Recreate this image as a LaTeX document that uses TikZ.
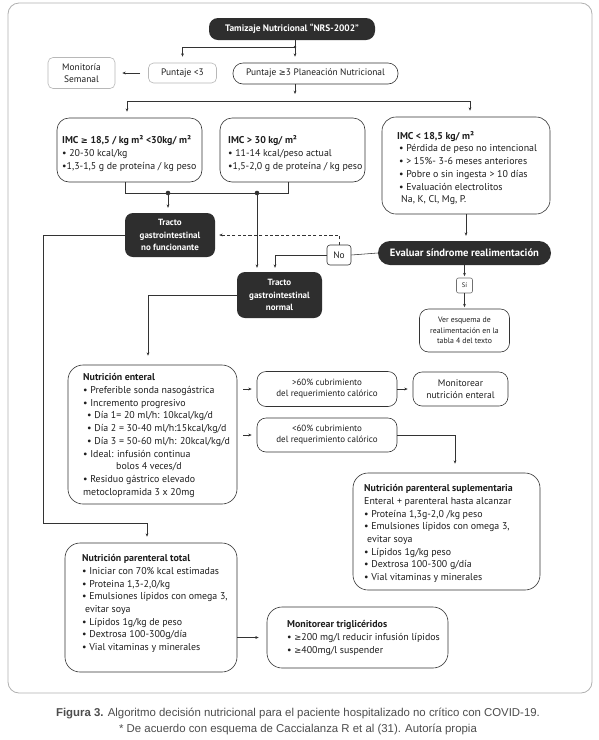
\documentclass[tikz,border=0pt]{standalone}
\usepackage{fontspec}
\setmainfont{PT Sans}
\newfontfamily\symfont{DejaVu Sans}
\newfontfamily\capfont{Liberation Sans}
\usetikzlibrary{arrows.meta}
\definecolor{darkc}{HTML}{2E2E2E}
\definecolor{linec}{HTML}{333333}
\definecolor{lightc}{HTML}{B8B8B8}
\definecolor{framec}{HTML}{B0B0B0}
\definecolor{capc}{HTML}{4D4D4D}
\definecolor{txtc}{HTML}{1E1E1E}
\newcommand{\gsign}{{\symfont\fontsize{8.4}{8}\selectfont ≥}}
\tikzset{
  arr/.style={-{Stealth[length=3.4pt,width=2.8pt]}, draw=linec, line width=0.55pt},
  ln/.style={draw=linec, line width=0.55pt},
  darkbox/.style={fill=darkc, draw=none, text=white, font=\bfseries\fontsize{9}{12.3}\selectfont, align=center, inner sep=0pt},
  wbox/.style={draw=linec, line width=0.6pt, inner sep=0pt},
  cbox/.style={draw=linec, line width=0.6pt, inner sep=0pt, align=center, text=txtc, font=\fontsize{9}{11.2}\selectfont},
  lbox/.style={draw=lightc, line width=0.6pt, inner sep=0pt, align=center, text=txtc, font=\fontsize{9.4}{11.5}\selectfont},
  txt/.style={anchor=west, align=left, inner sep=0pt, text=txtc, font=\fontsize{9.9}{12.7}\selectfont},
  jdot/.style={circle, fill=linec, inner sep=0pt, minimum size=4.6pt},
}
\begin{document}
\begin{tikzpicture}[x=1pt,y=-1pt]
\fill[white] (0,0) rectangle (598,740);
\useasboundingbox (0,0) rectangle (598,740);
\node[draw=framec, line width=0.8pt, rounded corners=11pt, minimum width=584pt, minimum height=690pt, inner sep=0pt] (frame) at (300,348) {};

% top
\node[darkbox, rounded corners=9pt, minimum width=166pt, minimum height=22pt, font=\bfseries\fontsize{9.4}{11}\selectfont] (T) at (292,29) {Tamizaje Nutricional “NRS-2002”};
\node[lbox, rounded corners=5pt, minimum width=68pt, minimum height=20pt] (Plow) at (182.5,73) {Puntaje <3};
\node[lbox, rounded corners=5pt, minimum width=67pt, minimum height=31pt] (Mon) at (81.5,73) {Monitoría\\Semanal};
\node[cbox, rounded corners=10pt, minimum width=165pt, minimum height=21pt, font=\fontsize{9.4}{11}\selectfont] (Pge) at (315.5,73.5) {Puntaje \gsign3 Planeación Nutricional};

\coordinate (j0) at (295,47);
\node[jdot, minimum size=2.6pt] (j0d) at (j0) {};
\draw[ln] (T.south -| j0) -- (j0);
\draw[arr, shorten >=6pt] (j0) -| (Plow.north);
\draw[arr, shorten >=6pt] (j0) -- (j0 |- Pge.north);
\draw[arr, shorten <=8pt, shorten >=7pt] (Plow.west) -- (Mon.east);

\coordinate (bar) at (295,101);
\coordinate (bl) at (127,101);
\coordinate (br) at (470,101);
\draw[arr, shorten >=7pt] (Pge.south -| bar) -- (bar);
\draw[ln] (bl) -- (br);

% IMC boxes
\node[wbox, rounded corners=12pt, minimum width=145pt, minimum height=64pt] (I1) at (129.5,150) {};
\node[txt] (I1t) at (62,153.5) {\textbf{IMC \gsign{} 18,5 / kg m² <30kg/ m²}\\• 20-30 kcal/kg\\•1,3-1,5 g de proteína / kg peso};
\node[wbox, rounded corners=12pt, minimum width=145pt, minimum height=64pt] (I2) at (292.5,150) {};
\node[txt] (I2t) at (228,153.5) {\textbf{IMC > 30 kg/ m²}\\• 11-14 kcal/peso actual\\•1,5-2,0 g de proteína / kg peso};
\node[wbox, rounded corners=14pt, minimum width=168pt, minimum height=97pt] (I3) at (466,165.5) {};
\node[txt] (I3t) at (397,168) {\textbf{IMC < 18,5 kg/ m²}\\\hspace*{2pt}• Pérdida de peso no intencional\\\hspace*{2pt}• > 15\%- 3-6 meses anteriores\\\hspace*{2pt}• Pobre o sin ingesta > 10 días\\\hspace*{2pt}• Evaluación electrolitos\\\hspace*{4pt}Na, K, Cl, Mg, P.};

\draw[arr, shorten >=6pt] (bl) -- (bl |- I1.north);
\draw[arr, shorten >=6pt] (br) -- (br |- I3.north);

% bracket under IMC1 / IMC2
\coordinate (k1) at (125,193);
\coordinate (k2) at (288,193);
\draw[ln] (I1.south -| k1) -- (k1) -- (k2) -- (I2.south -| k2);
\node[jdot] (d1) at (168,193) {};
\node[jdot] (d2) at (257,193) {};

% tracto nodes
\node[darkbox, rounded corners=8pt, minimum width=90pt, minimum height=44pt] (TNF) at (170,235) {Tracto\\gastrointestinal\\no funcionante};
\node[darkbox, rounded corners=8pt, minimum width=85pt, minimum height=46pt] (TN) at (279.5,295) {Tracto\\gastrointestinal\\normal};
\draw[arr, shorten >=5pt] (d1.center) -- (d1.center |- TNF.north);
\draw[arr, shorten >=4pt] (d2.center) -- (d2.center |- TN.north);

% evaluar
\node[darkbox, rounded corners=12pt, minimum width=173pt, minimum height=24pt, font=\bfseries\fontsize{10.6}{12}\selectfont] (Ev) at (464.5,253) {Evaluar síndrome realimentación};
\node[cbox, rounded corners=3pt, minimum width=24pt, minimum height=20pt, font=\fontsize{9.4}{11}\selectfont] (No) at (339,255) {No};
\node[lbox, draw=linec!70, rounded corners=2pt, minimum width=16pt, minimum height=15pt, font=\fontsize{6.5}{8}\selectfont] (Si) at (464.5,285.5) {Sí};
\node[cbox, rounded corners=9pt, minimum width=90pt, minimum height=43pt, font=\fontsize{7.8}{10.5}\selectfont] (Ver) at (464.5,330.5) {Ver esquema de\\realimentación en la\\tabla 4 del texto};

\draw[arr, shorten >=5pt] (I3.south) -- (I3.south |- Ev.north);
\draw[ln] (Ev.west) -- (No.east);
\coordinate (nk) at (275,255);
\draw[arr, shorten >=4pt] (No.west) -- (nk) -- (nk |- TN.north);
\draw[arr, dash pattern=on 3.2pt off 2.2pt, shorten >=4pt] (No.north) |- (TNF.east);
\draw[arr, shorten >=1.5pt] (Ev.south) -- (Si.north);
\draw[arr, shorten >=1.5pt] (Si.south) -- (Ver.north);

% enteral
\node[wbox, rounded corners=15pt, minimum width=169pt, minimum height=139pt] (Ent) at (152.5,434.5) {};
\node[txt] (Entt) at (83,435.5) {\textbf{Nutrición enteral}\\• Preferible sonda nasogástrica\\• Incremento progresivo\\\hspace*{4pt}• Día 1= 20 ml/h: 10kcal/kg/d\\\hspace*{4pt}• Día 2 = 30-40 ml/h:15kcal/kg/d\\\hspace*{4pt}• Día 3 = 50-60 ml/h: 20kcal/kg/d\\• Ideal: infusión continua\\\hspace*{33pt}bolos 4 veces/d\\• Residuo gástrico elevado\\metoclopramida 3 x 20mg};
\coordinate (nA) at (148,295);
\draw[arr, shorten >=9pt] (TN.west) -- (nA) -- (nA |- Ent.north);

\node[cbox, rounded corners=9pt, minimum width=140pt, minimum height=35pt] (G60) at (327,389) {>60\% cubrimiento\\del requerimiento calórico};
\node[cbox, rounded corners=9pt, minimum width=140pt, minimum height=34pt] (L60) at (327,435) {<60\% cubrimiento\\del requerimiento calórico};
\node[cbox, rounded corners=9pt, minimum width=95pt, minimum height=34pt, font=\fontsize{9.6}{11.8}\selectfont] (MonE) at (460.5,389) {Monitorear\\nutrición enteral};
\draw[arr, shorten <=6pt, shorten >=5pt] (Ent.east |- G60.west) -- (G60.west);
\draw[arr, shorten <=6pt, shorten >=5pt] (Ent.east |- L60.west) -- (L60.west);
\draw[arr, shorten >=5pt] (G60.east) -- (MonE.west);

% parenteral suplementaria
\node[wbox, rounded corners=15pt, minimum width=187pt, minimum height=117pt] (NPS) at (446.5,531.5) {};
\node[txt] (NPSt) at (364,533.5) {\textbf{Nutrición parenteral suplementaria}\\Enteral + parenteral hasta alcanzar\\• Proteína 1,3g-2,0 /kg peso\\• Emulsiones lípidos con omega 3,\\\hspace*{3pt}evitar soya\\• Lípidos 1g/kg peso\\• Dextrosa 100-300 g/día\\• Vial vitaminas y minerales};
\coordinate (lk) at (455,435);
\draw[arr, shorten >=9pt] (L60.east) -- (lk) -- (lk |- NPS.north);

% parenteral total
\node[wbox, rounded corners=15pt, minimum width=172pt, minimum height=129pt] (NPT) at (151,607.5) {};
\node[txt] (NPTt) at (82,603.5) {\textbf{Nutrición parenteral total}\\• Iniciar con 70\% kcal estimadas\\• Proteina 1,3-2,0/kg\\• Emulsiones lípidos con omega 3,\\\hspace*{3pt}evitar soya\\• Lípidos 1g/kg de peso\\• Dextrosa 100-300g/día\\• Vial vitaminas y minerales};
\coordinate (lA) at (43,235);
\coordinate (lB) at (43,523);
\coordinate (lC) at (147,523);
\draw[arr, shorten >=6pt] (TNF.west) -- (lA) -- (lB) -- (lC) -- (lC |- NPT.north);

% trigliceridos
\node[wbox, rounded corners=15pt, minimum width=181pt, minimum height=61pt] (MT) at (357.5,637.5) {};
\node[txt] (MTt) at (287,638) {\textbf{Monitorear triglicéridos}\\• \gsign200 mg/l reducir infusión lípidos\\• \gsign400mg/l suspender};
\draw[arr, shorten >=8pt] (NPT.east |- MT.west) -- (MT.west);

% caption
\node[font=\capfont\fontsize{11.4}{13}\selectfont, text=capc, inner sep=0pt] (cap1) at (298,714) {\textbf{Figura 3.} Algoritmo decisión nutricional para el paciente hospitalizado no crítico con COVID-19.};
\node[font=\capfont\fontsize{11.4}{13}\selectfont, text=capc, inner sep=0pt] (cap2) at (298,729) {* De acuerdo con esquema de Caccialanza R et al (31). Autoría propia};
\end{tikzpicture}
\end{document}
